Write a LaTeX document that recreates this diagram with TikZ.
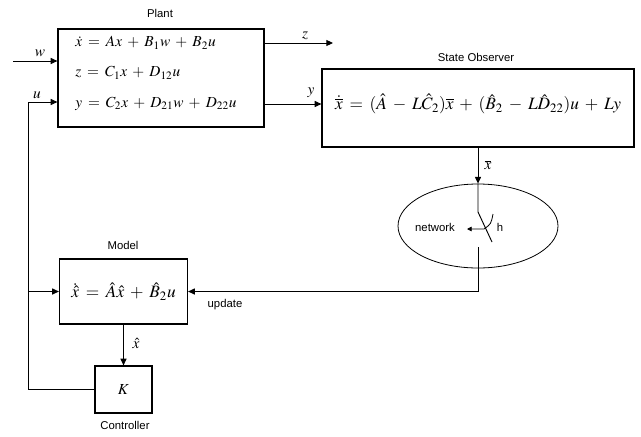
\documentclass[tikz,border=0pt]{standalone}
\usepackage[no-math]{fontspec}
\usepackage{mathptmx}
\setmainfont{Liberation Serif}
\setsansfont{Liberation Sans}
\usetikzlibrary{arrows.meta,shapes.geometric}
\newcommand\widemath{\medmuskip=6mu\relax\thickmuskip=7mu\relax}
\begin{document}
\begin{tikzpicture}[x=0.75pt,y=-0.75pt,
  box/.style={draw, line width=0.9pt, inner sep=0pt},
  lab/.style={font=\sffamily\fontsize{8.5}{10}\selectfont, inner sep=1pt},
  eq/.style={font=\fontsize{11.5}{13}\selectfont\widemath, inner sep=0pt},
  bigeq/.style={font=\fontsize{13}{15}\selectfont\widemath, inner sep=0pt},
  ln/.style={line width=0.7pt},
  arr/.style={line width=0.7pt, -{Triangle[length=5pt,width=4.5pt]}},
  sarr/.style={line width=0.6pt, -{Triangle[length=3.5pt,width=3.5pt]}}]
\useasboundingbox (0,0) rectangle (641,436);
% Plant
\node[box, minimum width=154.5pt, minimum height=73.5pt] (plant) at (161,78) {};
\node[lab] (plantlab) at (160,13) {Plant};
\node[eq, anchor=west] (e1) at (75,43) {$\dot x = Ax + B_1w + B_2u$};
\node[eq, anchor=west] (e2) at (75,73) {$z = C_1x + D_{12}u$};
\node[eq, anchor=west] (e3) at (75,104) {$y = C_2x + D_{21}w + D_{22}u$};
% Observer
\node[box, minimum width=234pt, minimum height=58.5pt] (obs) at (478,108) {};
\node[lab] (obslab) at (476,57) {State Observer};
\node[bigeq] (oeq) at (478,104) {$\dot{\overline{x}} = (\hat A - L\hat C_2)\overline{x} + (\hat B_2 - L\hat D_{22})u + Ly$};
% Network
\node[draw, ellipse, line width=0.6pt, minimum width=120pt, minimum height=63pt, inner sep=0pt] (net) at (478,226) {};
\node[lab] (netlab) at (435,227) {network};
\node[lab] (hlab) at (500,227) {h};
% Model
\node[box, minimum width=96pt, minimum height=48.75pt] (model) at (123.5,291.5) {};
\node[bigeq] (meq) at (123.5,291.5) {$\dot{\hat x} = \hat A\hat x + \hat B_2 u$};
\node[lab] (modellab) at (123,245) {Model};
% Controller
\node[box, eq, minimum width=42.75pt, minimum height=35.25pt] (K) at (123.5,389.5) {$K$};
\node[lab] (ctrllab) at (125,425) {Controller};
% connectors
\coordinate (win) at (13,61);
\draw[arr] (win) -- (win -| plant.west);
\node[eq] (wlab) at (40,53) {$w$};
\coordinate (ucorner) at (28,102);
\coordinate (ubranch) at (28,291.5);
\draw[arr] (K.west) -| (ucorner) -- (ucorner -| plant.west);
\node[eq] (ulab) at (37,95) {$u$};
\draw[arr] (ubranch) -- (model.west);
\coordinate (zend) at (333,43);
\draw[arr] (zend -| plant.east) -- (zend);
\node[eq] (zlab) at (305,36) {$z$};
\coordinate (ylev) at (300,104);
\draw[arr] (ylev -| plant.east) -- (ylev -| obs.west);
\node[eq] (ylab) at (311,93) {$y$};
\draw[arr] (obs.south) -- (net.north);
\node[eq] (xbarlab) at (488,165) {$\overline{x}$};
% switch
\coordinate (s1) at (478,212);
\coordinate (s2) at (492,242);
\coordinate (s3) at (478,247);
\coordinate (upd) at (478,291.5);
\draw[ln] (net.north) -- (s1) -- (s2);
\draw[arr] (s3) -- (upd) -- (upd -| model.east);
\coordinate (a1) at (493,214);
\coordinate (a2) at (484,229);
\coordinate (a3) at (467,229);
\draw[sarr] (a1) .. controls (491,224) .. (a2) -- (a3);
\node[lab] (updlab) at (225,305) {update};
% model to controller
\draw[arr] (model.south) -- (K.north);
\node[eq] (xhatlab) at (136,343) {$\hat x$};
\end{tikzpicture}
\end{document}
